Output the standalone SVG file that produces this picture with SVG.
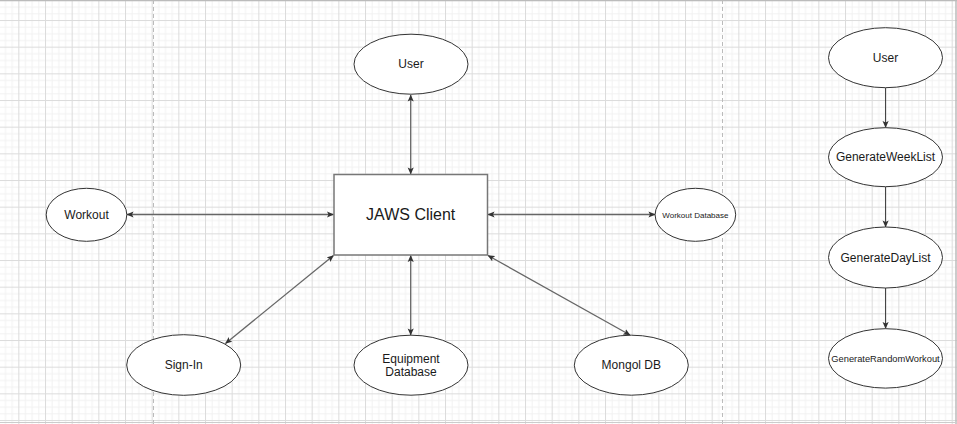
<svg xmlns="http://www.w3.org/2000/svg" width="957" height="424" viewBox="0 0 957 424">
<defs>
<pattern id="grid" x="18.33" y="20" width="26.667" height="26.667" patternUnits="userSpaceOnUse">
<rect x="0" y="0" width="26.667" height="26.667" fill="#ffffff"/>
<rect x="6.667" y="0" width="1" height="26.667" fill="#f2f2f2"/>
<rect x="13.333" y="0" width="1" height="26.667" fill="#f2f2f2"/>
<rect x="20" y="0" width="1" height="26.667" fill="#f2f2f2"/>
<rect x="0" y="6.667" width="26.667" height="1" fill="#f2f2f2"/>
<rect x="0" y="13.333" width="26.667" height="1" fill="#f2f2f2"/>
<rect x="0" y="20" width="26.667" height="1" fill="#f2f2f2"/>
<rect x="0" y="0" width="1" height="26.667" fill="#dcdcdc"/>
<rect x="0" y="0" width="26.667" height="1" fill="#dcdcdc"/>
</pattern>
<marker id="arr" viewBox="0 0 8 8" refX="7.5" refY="4" markerWidth="7" markerHeight="7" markerUnits="userSpaceOnUse" orient="auto-start-reverse">
<path d="M0,0.5 L8,4 L0,7.5 L1.8,4 Z" fill="#333333"/>
</marker>
<style>
.node ellipse{fill:#ffffff;stroke:#333333;stroke-width:1}
.node rect{fill:#ffffff;stroke:#777777;stroke-width:1.5}
.t{font-family:"Liberation Sans",Arial,sans-serif;font-size:12px;fill:#1a1a1a;text-anchor:middle}
.bi{stroke:#666666;stroke-width:1.3;fill:none;marker-start:url(#arr);marker-end:url(#arr)}
.uni{stroke:#333333;stroke-width:1;fill:none;marker-end:url(#arr)}
</style>
</defs>
<rect x="0" y="0" width="957" height="424" fill="url(#grid)"/>
<line x1="153.5" y1="0" x2="153.5" y2="424" stroke="#bbbbbb" stroke-width="1" stroke-dasharray="4,3"/>
<line x1="722.5" y1="0" x2="722.5" y2="424" stroke="#bbbbbb" stroke-width="1" stroke-dasharray="4,3"/>
<line x1="0" y1="0.5" x2="957" y2="0.5" stroke="#bbbbbb" stroke-width="1.5"/>
<line x1="956" y1="0" x2="956" y2="424" stroke="#bbbbbb" stroke-width="1.5"/>
<line x1="0" y1="422.5" x2="957" y2="422.5" stroke="#cccccc" stroke-width="1"/>

<g id="connectors">
<line class="bi" x1="410.7" y1="95" x2="410.7" y2="174"/>
<line class="bi" x1="127" y1="214.5" x2="333.5" y2="214.5"/>
<line class="bi" x1="488" y1="214.5" x2="655" y2="214.5"/>
<line class="bi" x1="333.5" y1="255.5" x2="225.5" y2="343.5"/>
<line class="bi" x1="410.7" y1="255.5" x2="410.7" y2="335"/>
<line class="bi" x1="488" y1="255.5" x2="630" y2="335"/>
<line class="uni" x1="885.6" y1="88" x2="885.6" y2="127.5"/>
<line class="uni" x1="885.6" y1="187" x2="885.6" y2="227"/>
<line class="uni" x1="885.6" y1="288" x2="885.6" y2="328.5"/>
</g>

<g id="user" class="node">
<ellipse cx="411" cy="64.2" rx="57" ry="30"/>
<text class="t" x="411" y="68.4">User</text>
</g>
<g id="jaws-client" class="node">
<rect x="334" y="174.5" width="153.5" height="80.5"/>
<text class="t" x="410.7" y="219.8" style="font-size:16px">JAWS Client</text>
</g>
<g id="workout" class="node">
<ellipse cx="86.5" cy="214.8" rx="40.3" ry="26.5"/>
<text class="t" x="86.5" y="219">Workout</text>
</g>
<g id="workout-database" class="node">
<ellipse cx="695.4" cy="214.8" rx="40.3" ry="26.5"/>
<text class="t" x="695.4" y="217.6" style="font-size:8px">Workout Database</text>
</g>
<g id="sign-in" class="node">
<ellipse cx="183.7" cy="365" rx="57" ry="30.3"/>
<text class="t" x="183.7" y="369.2">Sign-In</text>
</g>
<g id="equipment-database" class="node">
<ellipse cx="411" cy="365.2" rx="57" ry="30"/>
<text class="t" x="411" y="362.9">Equipment</text>
<text class="t" x="411" y="376.4">Database</text>
</g>
<g id="mongol-db" class="node">
<ellipse cx="631.3" cy="365.2" rx="57" ry="30"/>
<text class="t" x="631.3" y="369.4">Mongol DB</text>
</g>
<g id="user-2" class="node">
<ellipse cx="885.5" cy="57.7" rx="57" ry="30"/>
<text class="t" x="885.5" y="61.9">User</text>
</g>
<g id="generate-week-list" class="node">
<ellipse cx="885.5" cy="157.2" rx="57" ry="29.5"/>
<text class="t" x="885.5" y="161.4">GenerateWeekList</text>
</g>
<g id="generate-day-list" class="node">
<ellipse cx="885.5" cy="257.5" rx="57" ry="30.5"/>
<text class="t" x="885.5" y="261.7">GenerateDayList</text>
</g>
<g id="generate-random-workout" class="node">
<ellipse cx="885.5" cy="358.4" rx="57" ry="29.7"/>
<text class="t" x="885.5" y="361.7" style="font-size:9.3px">GenerateRandomWorkout</text>
</g>
</svg>
